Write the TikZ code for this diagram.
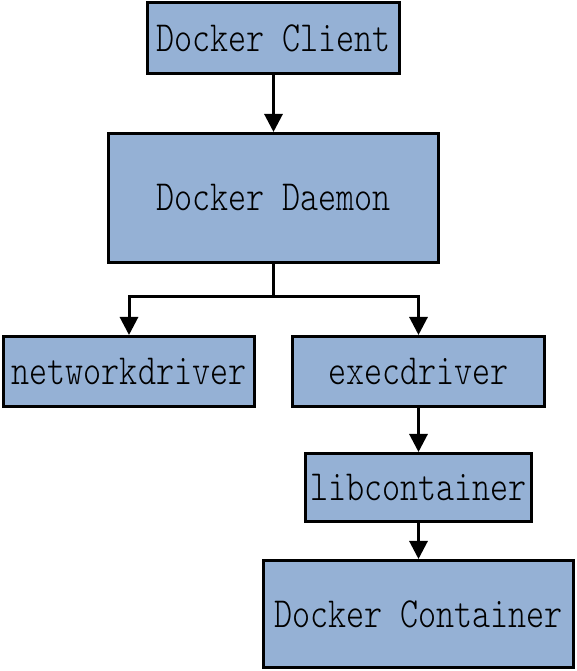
\documentclass[tikz,border=0pt]{standalone}
\usepackage{fontspec}
\usetikzlibrary{arrows.meta}
\newfontfamily\boxfont{lmmonolt10-regular.otf}[FakeStretch=0.8]
\definecolor{boxblue}{HTML}{95B1D5}

\begin{document}
\begin{tikzpicture}[x=1pt, y=1pt,
  box/.style={draw, line width=3pt, fill=boxblue, inner sep=0pt,
              font=\boxfont\fontsize{43}{50}\selectfont},
  link/.style={line width=3pt, -{Triangle[length=18pt, width=18pt]}}]

\useasboundingbox (0,0) rectangle (576,671);

% Client und Daemon
\node[box, minimum width=252pt, minimum height=71pt] (client) at (273.5,633) {Docker Client};
\node[box, minimum width=330pt, minimum height=129pt] (daemon) at (273.5,473) {Docker Daemon};

% Treiber
\node[box, minimum width=251pt, minimum height=70pt] (network) at (129,299.5) {networkdriver};
\node[box, minimum width=252pt, minimum height=70pt] (exec) at (418.5,299.5) {execdriver};

% Container
\node[box, minimum width=226pt, minimum height=68pt] (libc) at (418.5,183.5) {libcontainer};
\node[box, minimum width=310pt, minimum height=107pt] (container) at (418.5,57) {Docker Container};

% Verbindungen
\draw[link] (client.south) -- (daemon.north);
\draw[link] (daemon.south) -- ++(0,-33) -| (network.north);
\draw[link] (daemon.south) -- ++(0,-33) -| (exec.north);
\draw[link] (exec.south) -- (libc.north);
\draw[link] (libc.south) -- (container.north);

\end{tikzpicture}
\end{document}
